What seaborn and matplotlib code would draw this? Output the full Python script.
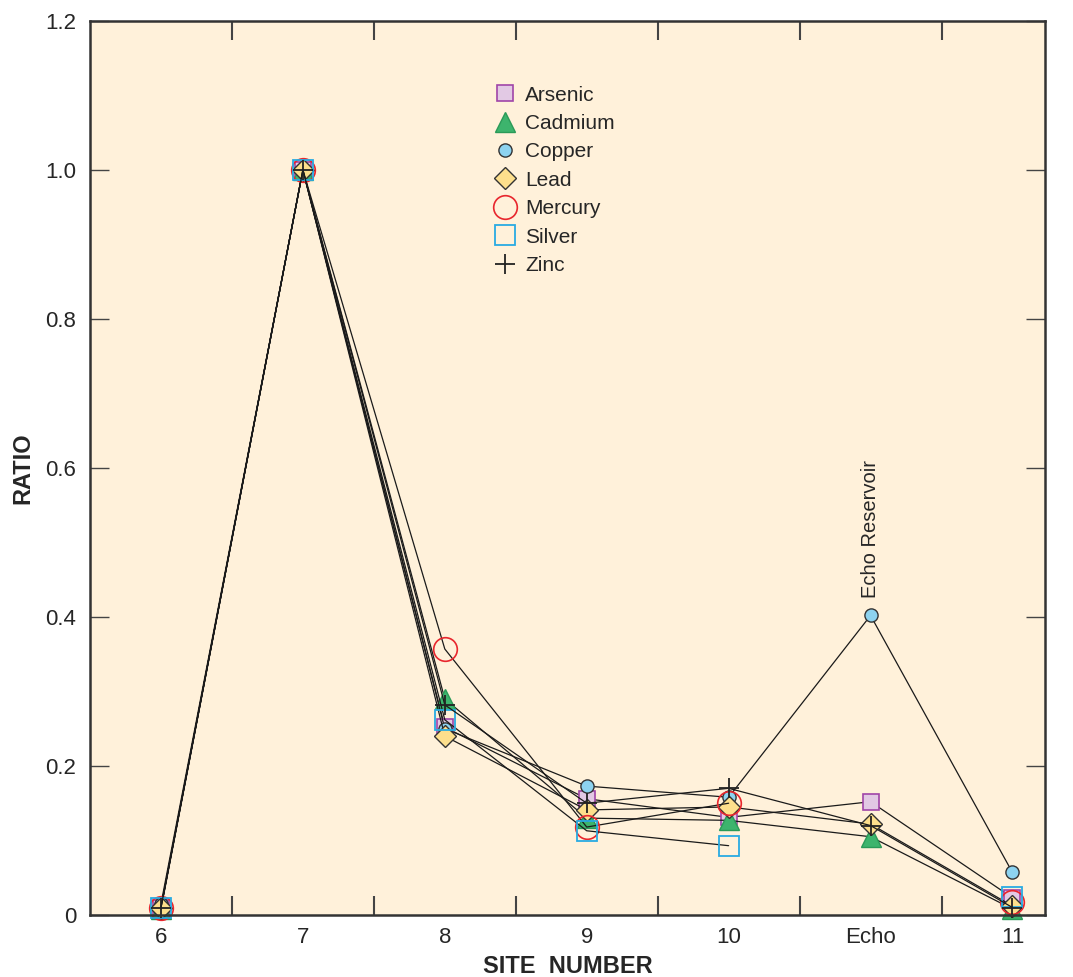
import numpy as np
import pandas as pd
import seaborn as sns
import matplotlib.pyplot as plt
from matplotlib.ticker import FixedLocator

# -------------------------------
# Dados
# -------------------------------
sites = ['6', '7', '8', '9', '10', 'Echo', '11']
arsenic = [0.010, 1.0, 0.252, 0.156, 0.131, 0.152, 0.023]
cadmium = [0.008, 1.0, 0.290, 0.130, 0.127, 0.105, 0.008]
copper = [0.015, 1.0, 0.250, 0.173, 0.158, 0.402, 0.057]
lead = [0.010, 1.0, 0.240, 0.141, 0.145, 0.122, 0.012]
mercury = [0.010, 1.0, 0.357, 0.118, 0.150, np.nan, 0.017]
silver = [0.010, 1.0, 0.262, 0.113, 0.093, np.nan, 0.024]
zinc = [0.010, 1.0, 0.282, 0.150, 0.170, 0.120, 0.010]

series = {
    'Arsenic': arsenic, 'Cadmium': cadmium, 'Copper': copper, 'Lead': lead,
    'Mercury': mercury, 'Silver': silver, 'Zinc': zinc,
}

estilos = {
    'Arsenic': dict(marker='s', markersize=12, markerfacecolor='#E2C9E4', markeredgecolor='#A045A8', markeredgewidth=1.2),
    'Cadmium': dict(marker='^', markersize=14, markerfacecolor='#3DB46D', markeredgecolor='#2A9A58', markeredgewidth=1.0),
    'Copper': dict(marker='o', markersize=9.5, markerfacecolor='#8DD3F0', markeredgecolor='#333333', markeredgewidth=1.0),
    'Lead': dict(marker='D', markersize=11, markerfacecolor='#FDDF8C', markeredgecolor='#333333', markeredgewidth=1.0),
    'Mercury': dict(marker='o', markersize=17, markerfacecolor='none', markeredgecolor='#E8262D', markeredgewidth=1.2),
    'Silver': dict(marker='s', markersize=14, markerfacecolor='none', markeredgecolor='#29ABE2', markeredgewidth=1.3),
    'Zinc': dict(marker='+', markersize=15, markerfacecolor='none', markeredgecolor='#222222', markeredgewidth=1.3),
}

sns.set_style('ticks')
plt.rcParams['font.family'] = ['Liberation Sans', 'DejaVu Sans']

fig = plt.figure(figsize=(10.73, 9.77), dpi=100)
ax = fig.add_axes([0.0839, 0.0635, 0.8901, 0.915])
ax.set_facecolor('#FFF1DA')

# -------------------------------
# Linhas (quebradas onde falta dado)
# -------------------------------
for nome, vals in series.items():
    df = pd.DataFrame({'x': np.arange(len(sites)), 'y': vals})
    df['seg'] = df['y'].isna().cumsum()
    df = df.dropna()
    for _, sub in df.groupby('seg'):
        sns.lineplot(data=sub, x='x', y='y', ax=ax, color='#1a1a1a', linewidth=0.9,
                     sort=False, estimator=None, clip_on=False, **estilos[nome])
    # legenda
    ax.plot([], [], linestyle='none', label=nome, **estilos[nome])

ax.set_xlim(-0.5, 6.23)
ax.set_ylim(0, 1.2)

ax.set_xticks(range(len(sites)))
ax.set_xticklabels(sites, fontsize=16)
ax.xaxis.set_minor_locator(FixedLocator(np.arange(0.5, 6, 1)))
ax.tick_params(axis='x', which='major', length=0, pad=9)
ax.tick_params(axis='x', which='minor', direction='in', length=14, width=1.5,
               top=True, bottom=True, color='#444444')

yt = [0, 0.2, 0.4, 0.6, 0.8, 1.0, 1.2]
ax.set_yticks(yt)
ax.set_yticklabels(['0', '0.2', '0.4', '0.6', '0.8', '1.0', '1.2'], fontsize=16)
ax.tick_params(axis='y', direction='in', length=14, width=1.0, left=True, right=True,
               color='#444444', pad=10)

for s in ax.spines.values():
    s.set_color('#333333')
    s.set_linewidth(1.8)

ax.set_xlabel('SITE  NUMBER', fontsize=17, fontweight='bold', labelpad=5,
              family=['Liberation Sans Narrow', 'Liberation Sans'])
ax.set_ylabel('RATIO', fontsize=17, fontweight='bold', labelpad=8,
              family=['Liberation Sans Narrow', 'Liberation Sans'])

ax.text(5, 0.425, 'Echo Reservoir', rotation=90, ha='center', va='bottom', fontsize=14.5)

leg = ax.legend(loc='upper left', bbox_to_anchor=(0.41, 0.937), frameon=False,
                fontsize=15, handletextpad=0.3, labelspacing=0.45, borderaxespad=0,
                handlelength=1.4)

fig.savefig('out.png', dpi=100, facecolor='white')
